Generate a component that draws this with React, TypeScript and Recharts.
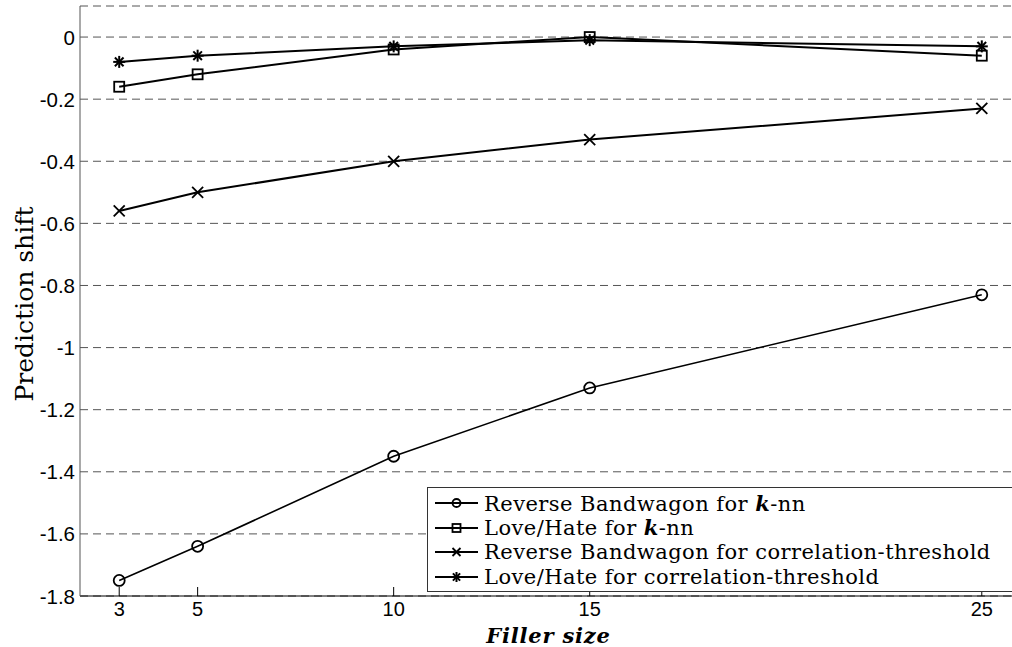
import React from 'react';
import { CartesianGrid, Legend, Line, LineChart, XAxis, YAxis } from 'recharts';

// filler sizes on the x axis
const fillerSizes = [3, 5, 10, 15, 25];

// prediction shift per attack / algorithm
const reverseBandwagonKnn = [-1.75, -1.64, -1.35, -1.13, -0.83];
const loveHateKnn = [-0.16, -0.12, -0.04, 0.0, -0.06];
const reverseBandwagonCorr = [-0.56, -0.5, -0.4, -0.33, -0.23];
const loveHateCorr = [-0.08, -0.06, -0.03, -0.01, -0.03];

const yTicks = [-1.8, -1.6, -1.4, -1.2, -1, -0.8, -0.6, -0.4, -0.2, 0];
const yTickLabels = ['-1.8', '-1.6', '-1.4', '-1.2', '-1', '-0.8', '-0.6', '-0.4', '-0.2', '0'];

const data = fillerSizes.map((x, i) => ({
  x,
  rbKnn: reverseBandwagonKnn[i],
  lhKnn: loveHateKnn[i],
  rbCorr: reverseBandwagonCorr[i],
  lhCorr: loveHateCorr[i],
}));

const SANS = '"Liberation Sans", Arial, sans-serif';
const SERIF = '"DejaVu Serif", serif';

type MarkerKind = 'circle' | 'square' | 'cross' | 'star';

function Marker({ kind, cx, cy, s }: { kind: MarkerKind; cx: number; cy: number; s: number }) {
  const sw = 1.8;
  if (kind === 'circle') return <circle cx={cx} cy={cy} r={s} fill="none" stroke="#000" strokeWidth={sw} />;
  if (kind === 'square')
    return <rect x={cx - s} y={cy - s} width={2 * s} height={2 * s} fill="none" stroke="#000" strokeWidth={sw} />;
  if (kind === 'cross')
    return (
      <g stroke="#000" strokeWidth={sw}>
        <line x1={cx - s} y1={cy - s} x2={cx + s} y2={cy + s} />
        <line x1={cx - s} y1={cy + s} x2={cx + s} y2={cy - s} />
      </g>
    );
  const d = s * 0.72;
  return (
    <g stroke="#000" strokeWidth={2}>
      <line x1={cx} y1={cy - s} x2={cx} y2={cy + s} />
      <line x1={cx - s} y1={cy} x2={cx + s} y2={cy} />
      <line x1={cx - d} y1={cy - d} x2={cx + d} y2={cy + d} />
      <line x1={cx - d} y1={cy + d} x2={cx + d} y2={cy - d} />
    </g>
  );
}

const makeDot = (kind: MarkerKind, s: number) => (props: any) => {
  const { cx, cy, index } = props;
  if (cx == null || cy == null) return <g key={index} />;
  return (
    <g key={index}>
      <Marker kind={kind} cx={cx} cy={cy} s={s} />
    </g>
  );
};

const BottomTick = (props: any) => {
  const { x, y, payload } = props;
  return (
    <g>
      <line x1={x} y1={y} x2={x} y2={y - 9} stroke="#000" strokeWidth={1} />
      <text x={x} y={y + 13} textAnchor="middle" dominantBaseline="central" fontFamily={SANS} fontSize={20} fill="#000">
        {payload.value}
      </text>
    </g>
  );
};

const TopTick = (props: any) => {
  const { x, y } = props;
  return <line x1={x} y1={y} x2={x} y2={y + 9} stroke="#000" strokeWidth={1} />;
};

const LeftTick = (props: any) => {
  const { x, y, payload } = props;
  const i = yTicks.indexOf(payload.value);
  return (
    <text x={x - 5} y={y} textAnchor="end" dominantBaseline="central" fontFamily={SANS} fontSize={20.5} fill="#000">
      {i >= 0 ? yTickLabels[i] : payload.value}
    </text>
  );
};

const legendItems: { kind: MarkerKind; label: React.ReactNode }[] = [
  { kind: 'circle', label: <>Reverse Bandwagon for <b><i>k</i></b>-nn</> },
  { kind: 'square', label: <>Love/Hate for <b><i>k</i></b>-nn</> },
  { kind: 'cross', label: <>Reverse Bandwagon for correlation-threshold</> },
  { kind: 'star', label: <>Love/Hate for correlation-threshold</> },
];

const LegendBox = () => (
  <div
    style={{
      border: '1px solid #333',
      background: '#fff',
      width: 640,
      height: 105,
      boxSizing: 'border-box',
      paddingTop: 3,
      fontFamily: SERIF,
      fontSize: 21,
      letterSpacing: 0.45,
      color: '#000',
    }}
  >
    {legendItems.map((it, i) => (
      <div key={i} style={{ display: 'flex', alignItems: 'center', height: 24.5 }}>
        <svg width={56} height={24} style={{ flex: 'none' }}>
          <line x1={7} y1={12} x2={50} y2={12} stroke="#000" strokeWidth={1.8} />
          <Marker kind={it.kind} cx={28.5} cy={12} s={it.kind === 'star' ? 5 : 4} />
        </svg>
        <span style={{ whiteSpace: 'nowrap' }}>{it.label}</span>
      </div>
    ))}
  </div>
);

export default function App() {
  return (
    <div
      style={{
        position: 'absolute',
        left: 0,
        top: 0,
        width: 1012,
        height: 647,
        overflow: 'hidden',
        background: '#fff',
      }}
    >
      <LineChart width={1030} height={647} data={data} margin={{ top: 6, right: 9, left: 0, bottom: 0 }}>
        <CartesianGrid vertical={false} stroke="#555" strokeDasharray="8 5" />
        <XAxis
          dataKey="x"
          type="number"
          domain={[2, 26]}
          ticks={fillerSizes}
          allowDataOverflow
          height={51}
          tickSize={0}
          tickMargin={0}
          tick={<BottomTick />}
          tickLine={false}
          axisLine={{ stroke: '#000', strokeWidth: 1 }}
          label={(p: any) => {
            const vb = p.viewBox;
            return (
              <text
                x={vb.x + vb.width / 2 - 2}
                y={635}
                textAnchor="middle"
                dominantBaseline="central"
                fontFamily={SERIF}
                fontSize={21}
                fontWeight="bold"
                fontStyle="italic"
                letterSpacing={0.8}
                fill="#000"
              >
                Filler size
              </text>
            );
          }}
        />
        <XAxis
          xAxisId="top"
          orientation="top"
          dataKey="x"
          type="number"
          domain={[2, 26]}
          ticks={fillerSizes}
          allowDataOverflow
          height={0}
          tickSize={0}
          tickMargin={0}
          tick={<TopTick />}
          tickLine={false}
          axisLine={{ stroke: '#000', strokeWidth: 1 }}
        />
        <YAxis
          type="number"
          domain={[-1.8, 0.1]}
          ticks={yTicks}
          allowDataOverflow
          width={80}
          tickSize={0}
          tickMargin={0}
          tick={<LeftTick />}
          tickLine={false}
          axisLine={{ stroke: '#555', strokeWidth: 1 }}
          label={() => (
            <text
              x={24}
              y={304}
              transform="rotate(-90 24 304)"
              textAnchor="middle"
              dominantBaseline="central"
              fontFamily={SERIF}
              fontSize={25}
              fill="#000"
            >
              Prediction shift
            </text>
          )}
        />
        <Legend
          layout="vertical"
          align="center"
          verticalAlign="middle"
          wrapperStyle={{ left: 427, top: 487, width: 640 }}
          content={<LegendBox />}
        />
        <Line dataKey="rbKnn" stroke="#000" strokeWidth={1.6} dot={makeDot('circle', 5.5)} isAnimationActive={false} />
        <Line dataKey="lhKnn" stroke="#000" strokeWidth={2} dot={makeDot('square', 5)} isAnimationActive={false} />
        <Line dataKey="rbCorr" stroke="#000" strokeWidth={2} dot={makeDot('cross', 5.5)} isAnimationActive={false} />
        <Line dataKey="lhCorr" stroke="#000" strokeWidth={2} dot={makeDot('star', 6)} isAnimationActive={false} />
      </LineChart>
    </div>
  );
}
